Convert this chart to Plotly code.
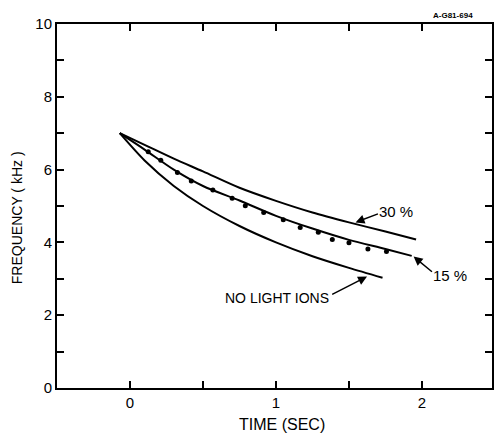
import plotly.graph_objects as go

# Data
t_30 = [-0.07, 0.1, 0.3, 0.5, 0.75, 1.0, 1.25, 1.5, 1.75, 1.96]
f_30 = [7.0, 6.68, 6.3, 5.95, 5.5, 5.14, 4.82, 4.55, 4.30, 4.08]

t_15 = [-0.07, 0.1, 0.3, 0.5, 0.75, 1.0, 1.25, 1.5, 1.75, 1.93]
f_15 = [7.0, 6.55, 6.0, 5.55, 5.15, 4.73, 4.38, 4.07, 3.82, 3.63]

t_nl = [-0.07, 0.1, 0.3, 0.5, 0.75, 1.0, 1.25, 1.5, 1.73]
f_nl = [7.0, 6.25, 5.55, 5.0, 4.45, 4.0, 3.62, 3.3, 3.03]

t_obs = [0.125, 0.211, 0.325, 0.42, 0.568, 0.70, 0.79, 0.916, 1.05, 1.166, 1.29, 1.386, 1.50, 1.63, 1.757]
f_obs = [6.49, 6.26, 5.92, 5.69, 5.44, 5.21, 5.01, 4.82, 4.62, 4.41, 4.28, 4.08, 3.99, 3.82, 3.75]

x_ticks = [0, 0.5, 1, 1.5, 2]
x_labels = ["0", "", "1", "", "2"]
y_ticks = [0, 1, 2, 3, 4, 5, 6, 7, 8, 9, 10]
y_labels = ["0", "", "2", "", "4", "", "6", "", "8", "", "10"]

FONT = "Liberation Sans"
line_style = dict(color="black", width=2, shape="spline", smoothing=0.8)

W, H = 494, 433
L, R, T, B = 57, 0, 24, 45
pw, ph = W - L - R, H - T - B


def px_to_paper(px, py):
    return (px - L) / pw, (H - B - py) / ph


fig = go.Figure()
fig.add_trace(go.Scatter(x=t_30, y=f_30, mode="lines", line=line_style, hoverinfo="skip"))
fig.add_trace(go.Scatter(x=t_15, y=f_15, mode="lines", line=line_style, hoverinfo="skip"))
fig.add_trace(go.Scatter(x=t_nl, y=f_nl, mode="lines", line=line_style, hoverinfo="skip"))
fig.add_trace(go.Scatter(x=t_obs, y=f_obs, mode="markers",
                         marker=dict(color="black", size=5), hoverinfo="skip"))

axis_common = dict(showgrid=False, zeroline=False, showline=True, linecolor="black",
                   linewidth=2, ticks="inside", ticklen=7, tickwidth=1.5, tickcolor="black",
                   tickfont=dict(family=FONT, size=15, color="black"))

fig.update_xaxes(range=[-0.5, 2.48], tickvals=x_ticks, ticktext=x_labels,
                 mirror="allticks", **axis_common)
fig.update_yaxes(range=[0, 10], tickvals=y_ticks, ticktext=y_labels,
                 mirror="ticks", **axis_common)

data_annots = [
    dict(x=1.82, y=4.86, text="30 %", showarrow=False, font=dict(size=15)),
    dict(x=2.19, y=3.08, text="15 %", showarrow=False, font=dict(size=15)),
    dict(x=1.01, y=2.47, text="NO LIGHT IONS", showarrow=False, font=dict(size=14)),
    dict(x=1.545, y=4.55, ax=1.709, ay=4.80, axref="x", ayref="y", text="",
         showarrow=True, arrowhead=2, arrowsize=1.2, arrowwidth=1.5, arrowcolor="black"),
    dict(x=1.943, y=3.61, ax=2.079, ay=3.16, axref="x", ayref="y", text="",
         showarrow=True, arrowhead=2, arrowsize=1.2, arrowwidth=1.5, arrowcolor="black"),
    dict(x=1.624, y=3.06, ax=1.375, ay=2.55, axref="x", ayref="y", text="",
         showarrow=True, arrowhead=2, arrowsize=1.2, arrowwidth=1.5, arrowcolor="black"),
]
for a in data_annots:
    a["xref"] = "x"
    a["yref"] = "y"
    if "font" in a:
        a["font"].update(family=FONT, color="black")
    fig.add_annotation(**a)

# axis titles and figure code, placed in paper coordinates
tx, ty = px_to_paper(283, 424)
fig.add_annotation(x=tx, y=ty, xref="paper", yref="paper", xanchor="center", yanchor="middle",
                   text="TIME (SEC)", showarrow=False,
                   font=dict(family=FONT, size=16, color="black"))
fx, fy = px_to_paper(17, 218)
fig.add_annotation(x=fx, y=fy, xref="paper", yref="paper", xanchor="center", yanchor="middle",
                   text="FREQUENCY ( kHz )", showarrow=False, textangle=-90,
                   font=dict(family=FONT, size=14, color="black"))
cx, cy = px_to_paper(455, 15)
fig.add_annotation(x=cx, y=cy, xref="paper", yref="paper", xanchor="center", yanchor="middle",
                   text="<b>A-G81-694</b>", showarrow=False,
                   font=dict(family=FONT, size=8, color="black"))

fig.update_layout(width=W, height=H, margin=dict(l=L, r=R, t=T, b=B),
                  plot_bgcolor="white", paper_bgcolor="white", showlegend=False)

fig.write_html("out.html", config={"displayModeBar": False},
               post_script="document.body.style.margin='0';document.body.style.overflow='hidden';")
